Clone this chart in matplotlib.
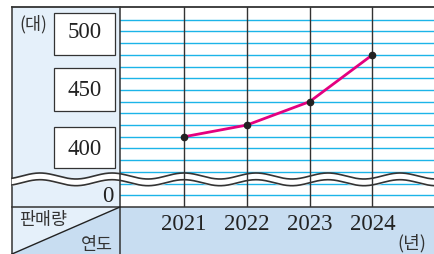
import numpy as np
import matplotlib
matplotlib.use('Agg')
import matplotlib.pyplot as plt
from matplotlib.patches import Rectangle, Polygon
from matplotlib.transforms import blended_transform_factory

# ---------------- data ----------------
years = [2021, 2022, 2023, 2024]
sales = [410, 420, 440, 480]
tick_labels = ['500', '450', '400']
tick_values = [500, 450, 400]
grid_values = list(range(360, 520, 10))
zero_value = 360      # the line shown as 0 below the break

W, H = 434, 255
serif = ['Liberation Serif', 'DejaVu Serif']
kr = ['Noto Sans CJK KR', 'DejaVu Sans']
dark = '#333333'

fig = plt.figure(figsize=(W / 100, H / 100), dpi=100)

# background (pixel coords)
bg = fig.add_axes([0, 0, 1, 1], zorder=0)
bg.set_xlim(0, W)
bg.set_ylim(H, 0)
bg.axis('off')
bg.add_patch(Rectangle((12, 8), 108, 200, fc='#e5f0fa', ec='none'))
bg.add_patch(Rectangle((12, 208), W - 12, 47, fc='#c8ddf1', ec='none'))
bg.add_patch(Polygon([(12, 208), (120, 208), (12, 255)], closed=True, fc='#e5f0fa', ec='none'))
bg.plot([12, 12], [8, 255], color=dark, lw=1.1)
for top, bottom in [(14, 56), (69, 112), (128, 169)]:
    bg.add_patch(Rectangle((54, top), 61, bottom - top, fc='white', ec=dark, lw=0.9))

# data axes
ax = fig.add_axes([120 / W, (H - 208) / H, (W - 120) / W, 200 / H], zorder=1)
ax.set_facecolor('white')
ax.set_xlim(2019.98, 2024.98)
ax.set_ylim(350, 520.85)
for s in ax.spines.values():
    s.set_visible(False)
ax.set_yticks([])
ax.set_xticks(years)
ax.set_xticklabels([str(y) for y in years], family=serif, fontsize=16.5, color='#222222')
ax.tick_params(axis='x', length=0, pad=4)

for v in grid_values:
    ax.axhline(v, color='#1cb4e8', lw=1.0, zorder=1)
for yr in years:
    ax.axvline(yr, color=dark, lw=1.0, zorder=3)

# wave break across the whole width
xw = np.linspace(12, W, 600)
upper = 177 - 3 * np.cos(2 * np.pi * (xw - 40) / 72)
lower = upper + 6.7
ax.fill_between(xw, upper, lower, color='white', transform=bg.transData, clip_on=False, zorder=2)
ax.plot(xw, upper, color=dark, lw=1.2, transform=bg.transData, clip_on=False, zorder=2)
ax.plot(xw, lower, color=dark, lw=1.2, transform=bg.transData, clip_on=False, zorder=2)

ax.plot(years, sales, color='#e4007f', lw=2.0, zorder=4)
ax.plot(years, sales, 'o', color='#222222', ms=4.5, zorder=5)

# y labels in the left panel
trans = blended_transform_factory(bg.transData, ax.transData)
for lab, v in zip(tick_labels, tick_values):
    ax.text(85, v, lab, transform=trans, ha='center', va='center',
            family=serif, fontsize=16.5, color='#222222', clip_on=False)
ax.text(108, zero_value, '0', transform=trans, ha='center', va='center',
        family=serif, fontsize=16.5, color='#222222', clip_on=False)

# frame lines and headers on top
ov = fig.add_axes([0, 0, 1, 1], zorder=3)
ov.set_xlim(0, W)
ov.set_ylim(H, 0)
ov.axis('off')
ov.patch.set_alpha(0)
ov.plot([12, W], [8, 8], color=dark, lw=1.3)
ov.plot([120, 120], [8, 255], color=dark, lw=1.1)
ov.plot([12, W], [208, 208], color=dark, lw=1.1)
ov.plot([12, 120], [255, 208], color='#222222', lw=1.0)

ov.text(33, 24, '(대)', ha='center', va='center', family=kr, fontsize=12.5, color='#333333')
ov.text(43, 220, '판매량', ha='center', va='center', family=kr, fontsize=12.5, color='#333333')
ov.text(97, 245, '연도', ha='center', va='center', family=kr, fontsize=12.5, color='#333333')
ov.text(412, 243, '(년)', ha='center', va='center', family=kr, fontsize=13, color='#333333')

fig.savefig('out.png', dpi=100)
